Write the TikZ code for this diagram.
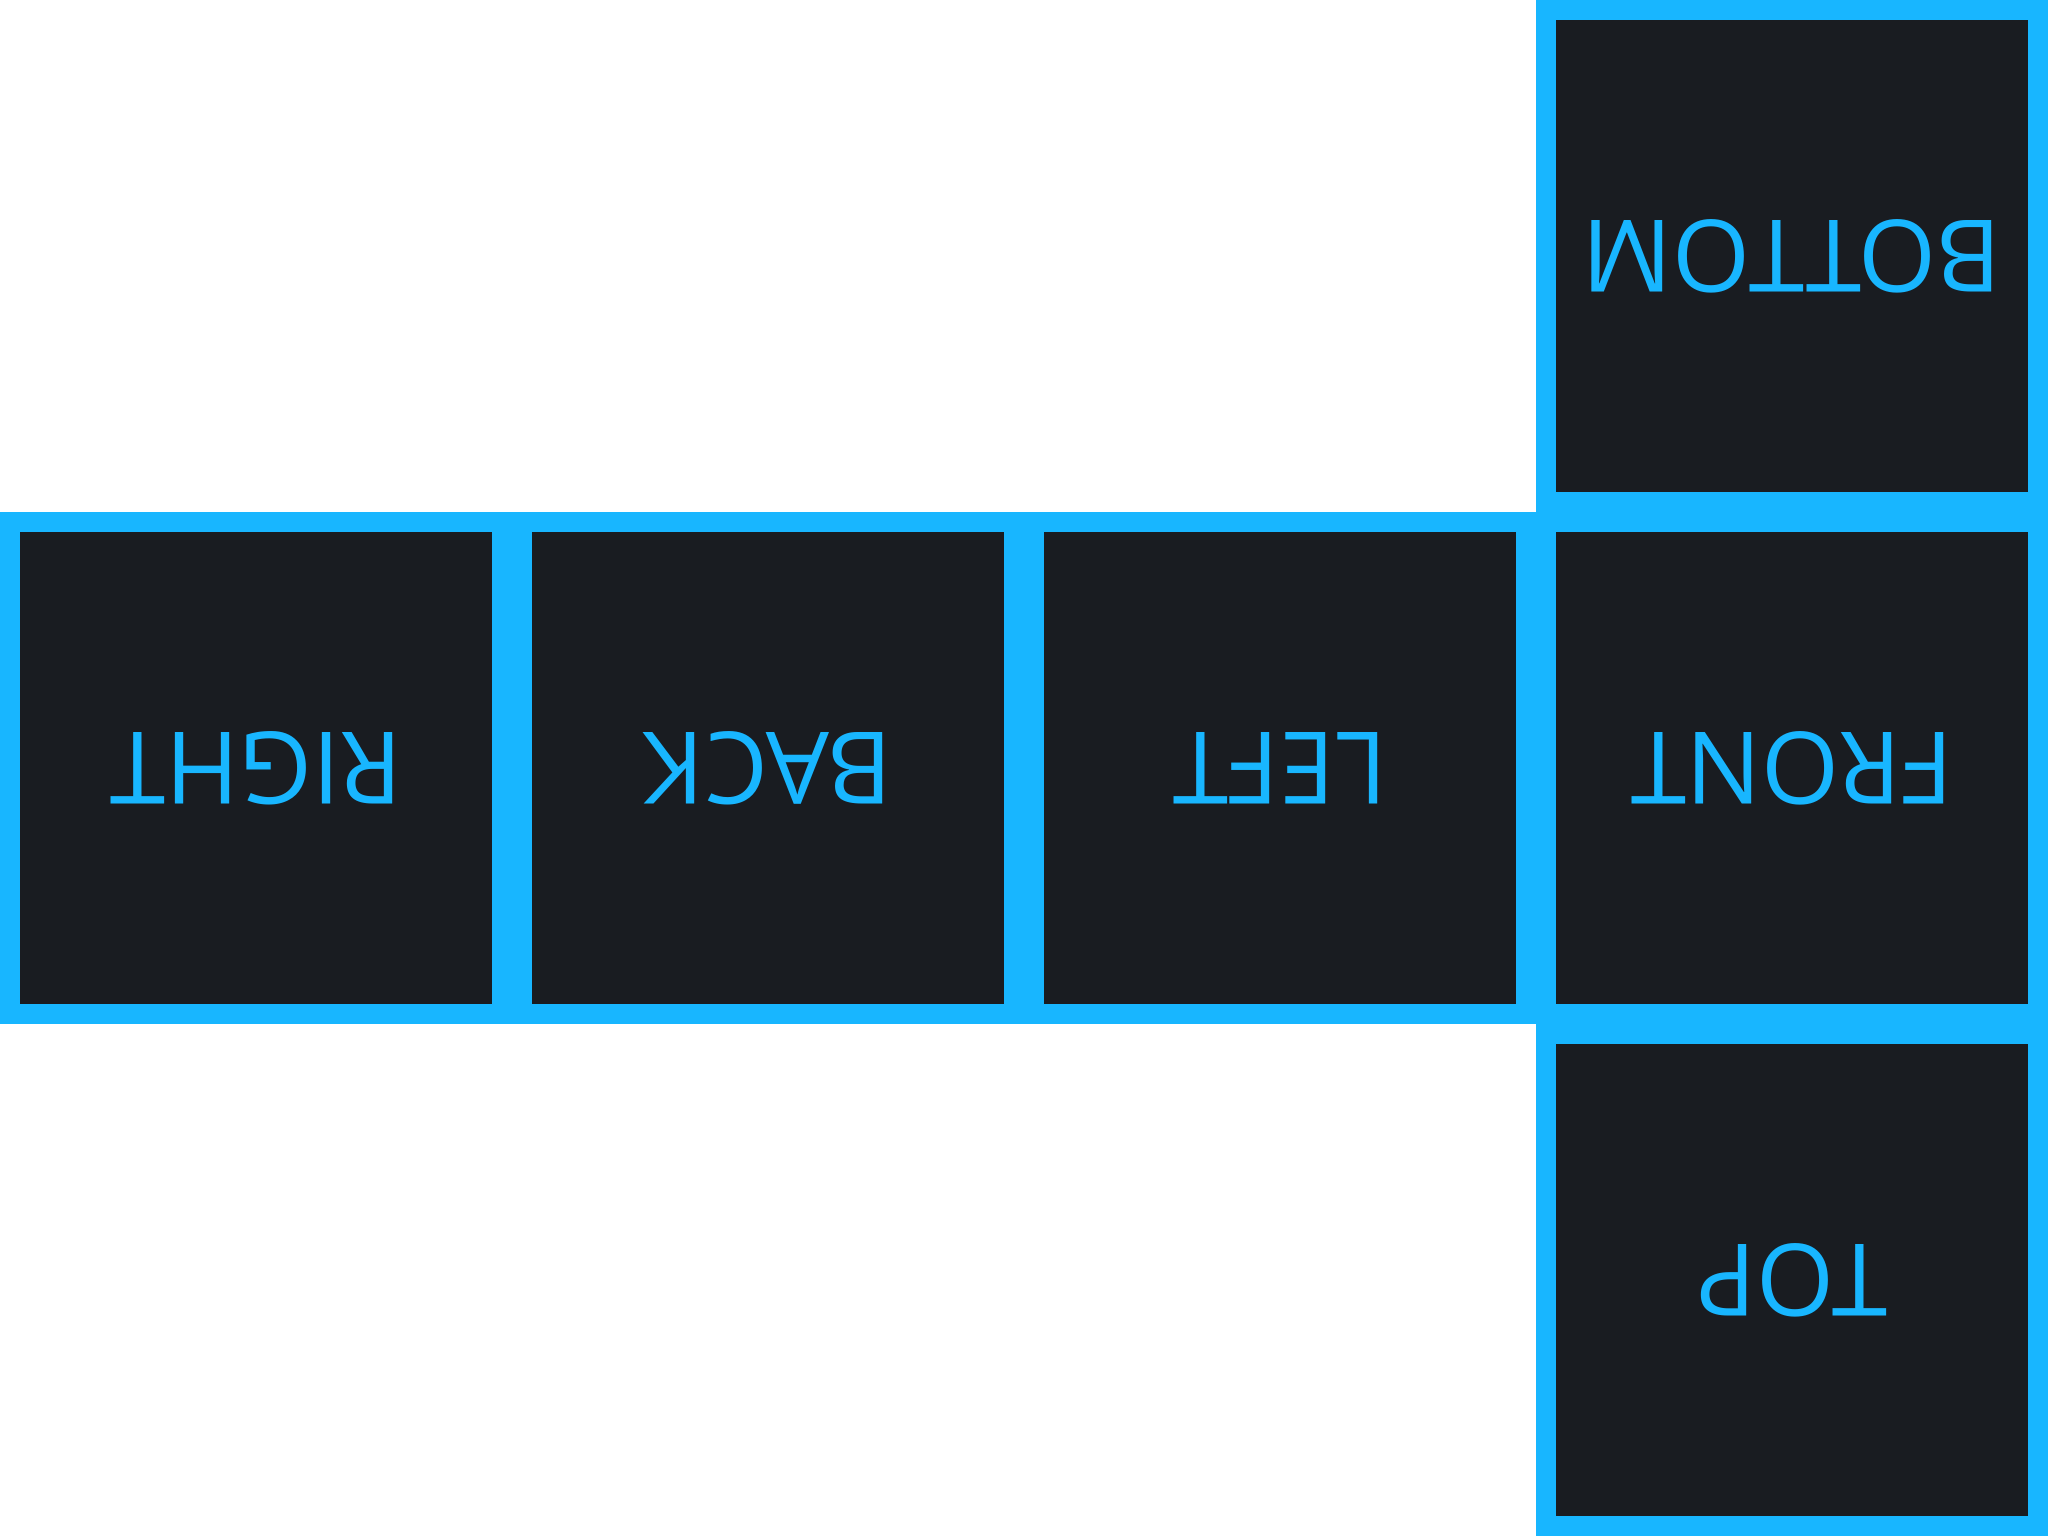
\documentclass[tikz,border=0pt]{standalone}
\usepackage{fontspec}
\setmainfont{Open Sans}
\usepackage{tikz}
\definecolor{faceblue}{HTML}{18B6FF}
\definecolor{facedark}{HTML}{191C21}
\tikzset{
  face/.style={draw=faceblue, fill=facedark, line width=0.2cm, inner sep=0pt,
    minimum size=4.92cm, text=faceblue, rotate=180,
    font=\fontsize{28.5}{30}\selectfont}
}

\begin{document}
\begin{tikzpicture}[scale=1]

  \newcommand\X{5.12};
  \newcommand\Y{5.12};

  \fill[white] (-0.5*\X, -1.5*\Y) rectangle (3.5*\X, 1.5*\Y);
  \useasboundingbox (-0.5*\X, -1.5*\Y) rectangle (3.5*\X, 1.5*\Y);

  \node[face] (right)  at (0*\X,  0*\Y) {RIGHT};
  \node[face] (back)   at (1*\X,  0*\Y) {BACK};
  \node[face] (left)   at (2*\X,  0*\Y) {LEFT};
  \node[face] (front)  at (3*\X,  0*\Y) {FRONT};
  \node[face] (bottom) at (3*\X,  1*\Y) {BOTTOM}; %% above front
  \node[face] (top)    at (3*\X, -1*\Y) {TOP};    %% below front
\end{tikzpicture}
\end{document}
